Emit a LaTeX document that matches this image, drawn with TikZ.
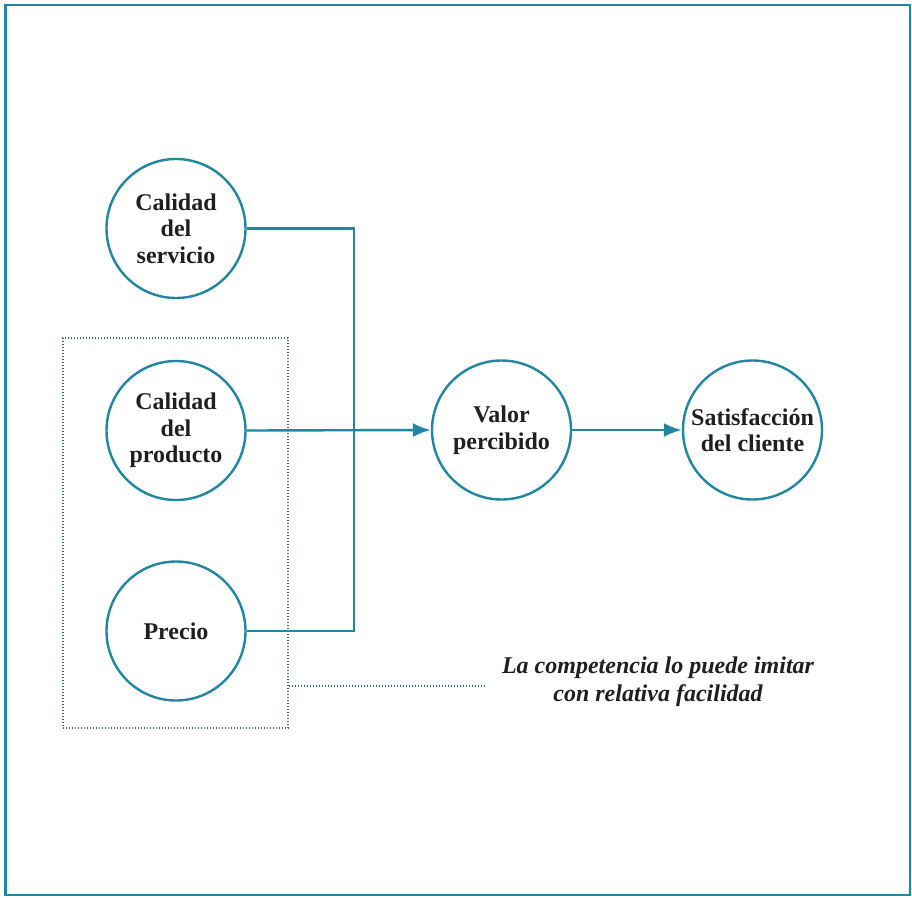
\documentclass[tikz,border=0pt]{standalone}
\usepackage{fontspec}
\setmainfont{Liberation Serif}
\usetikzlibrary{arrows.meta}
\definecolor{teal1}{RGB}{32,134,162}
\definecolor{dotc}{RGB}{55,105,125}
\begin{document}
\begin{tikzpicture}[x=1pt,y=-1pt,
  bubble/.style={circle,draw=teal1,line width=2.4pt,minimum size=139pt,inner sep=0pt,
    align=center,font=\fontsize{24}{26.5}\selectfont\bfseries,text=black!88},
  link/.style={draw=teal1,line width=2.4pt},
  arrowlink/.style={link,-{Latex[length=18pt,width=14pt]}},
  dots/.style={draw=dotc,line width=2pt,dash pattern=on 1.2pt off 1.8pt},
  note/.style={align=center,font=\fontsize{24}{28}\selectfont\bfseries\itshape,text=black!88}]
\useasboundingbox (0,0) rectangle (912,897);
% outer frame
\draw[teal1,line width=2.6pt] (5.5,5) rectangle (910,895);
% grouping box around product quality and price
\node (grupo) [dots,rectangle,minimum width=225pt,minimum height=390pt,inner sep=0pt] at (175.5,533) {};
% factor bubbles
\node (serv) [bubble] at (176,228.5) {Calidad\\del\\servicio};
\node (prod) [bubble] at (176,430.5) {Calidad\\del\\producto};
\node (prec) [bubble] at (176,631) {Precio};
\node (valor) [bubble] at (501.5,430) {Valor\\percibido};
\node (sat) [bubble] at (752.5,430) {Satisfacción\\del cliente};
% connectors
\coordinate (bus) at (354,0);
\draw[link] (serv.east) -- (serv.east -| bus) |- (prec.east);
\draw[arrowlink] (prod.east) -- (valor.west);
\draw[arrowlink] (valor.east) -- (sat.west);
% note and its leader
\node (nota) [note] at (658,682) {La competencia lo puede imitar\\con relativa facilidad};
\coordinate (lead) at (485,686);
\draw[dots] (grupo.east |- lead) -- (lead);
\end{tikzpicture}
\end{document}
